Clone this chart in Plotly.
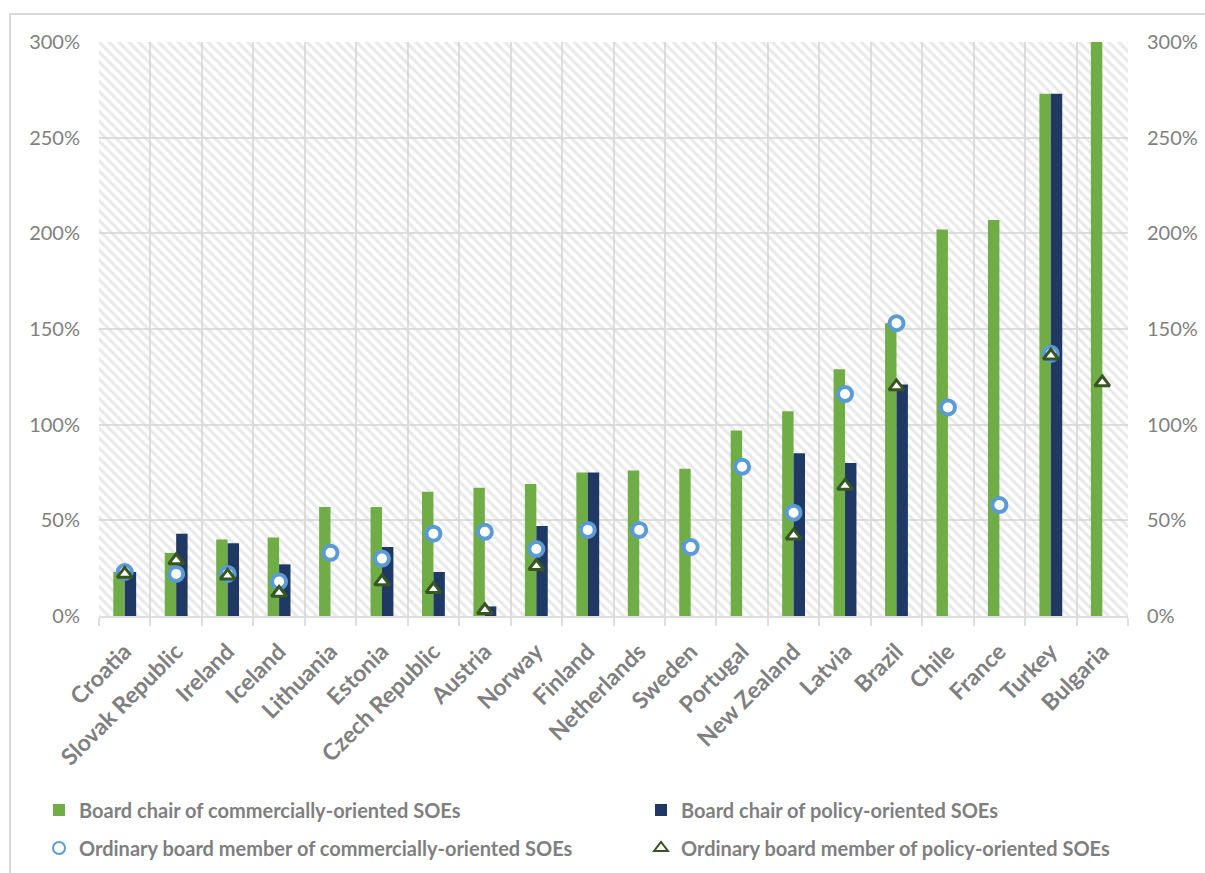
import plotly.graph_objects as go

countries = ["Croatia", "Slovak Republic", "Ireland", "Iceland", "Lithuania", "Estonia",
             "Czech Republic", "Austria", "Norway", "Finland", "Netherlands", "Sweden",
             "Portugal", "New Zealand", "Latvia", "Brazil", "Chile", "France", "Turkey", "Bulgaria"]

chair_commercial = [23, 33, 40, 41, 57, 57, 65, 67, 69, 75, 76, 77, 97, 107, 129, 153, 202, 207, 273, 300]
chair_policy = [23, 43, 38, 27, None, 36, 23, 5, 47, 75, None, None, None, 85, 80, 121, None, None, 273, None]
member_commercial = [23, 22, 22, 18, 33, 30, 43, 44, 35, 45, 45, 36, 78, 54, 116, 153, 109, 58, 137, None]
member_policy = [22, 29, 21, 12, None, 18, 14, 3, 26, None, None, None, None, 42, 68, 120, None, None, 136, 122]

y_ticks = [0, 50, 100, 150, 200, 250, 300]
y_tick_labels = ["0%", "50%", "100%", "150%", "200%", "250%", "300%"]

names = ["Board chair of commercially-oriented SOEs",
         "Board chair of policy-oriented SOEs",
         "Ordinary board member of commercially-oriented SOEs",
         "Ordinary board member of policy-oriented SOEs"]

GREEN = "#70ad47"
NAVY = "#203864"
BLUE = "#5b9bd5"
DKGREEN = "#375623"
GRAY_TXT = "#7f7f7f"
GRID = "#dedede"
BW = 0.222

fig = go.Figure()

# hatched plot-area background
fig.add_trace(go.Bar(
    x=[countries[0]], y=[y_ticks[-1]], base=0, offset=-0.5, width=len(countries),
    marker=dict(color="rgba(0,0,0,0)", line=dict(width=0),
                pattern=dict(shape="\\", fgcolor="#d4d4d4", size=7, solidity=0.45)),
    showlegend=False, hoverinfo="skip"))

fig.add_trace(go.Bar(x=countries, y=chair_commercial, name=names[0], offset=-BW, width=BW,
                     marker=dict(color=GREEN, line=dict(width=0)), legend="legend"))
fig.add_trace(go.Bar(x=countries, y=chair_policy, name=names[1], offset=0, width=BW,
                     marker=dict(color=NAVY, line=dict(width=0)), legend="legend2"))
fig.add_trace(go.Scatter(x=countries, y=member_commercial, name=names[2], mode="markers",
                         marker=dict(symbol="circle", size=14, color="white",
                                     line=dict(color=BLUE, width=4)), legend="legend3"))
fig.add_trace(go.Scatter(x=countries, y=member_policy, name=names[3], mode="markers",
                         marker=dict(symbol="triangle-up", size=13, color="white",
                                     line=dict(color=DKGREEN, width=3)), legend="legend4"))
# carrier for right axis
fig.add_trace(go.Scatter(x=[countries[0], countries[-1]], y=[0, y_ticks[-1]], yaxis="y2",
                         mode="markers", marker=dict(opacity=0), showlegend=False, hoverinfo="skip"))

L, R, T, B = 99, 77, 42, 257
W, H = 1205, 873
pw, ph = W - L - R, H - T - B

def px_x(p):
    return (p - L) / pw

def px_y(p):
    return (H - B - p) / ph

tickfont = dict(family="Lato", size=20, color=GRAY_TXT)
legfont = dict(family="Lato", size=20, color=GRAY_TXT, weight="bold")

def leg(xpx, ypx):
    return dict(orientation="h", x=px_x(xpx), xanchor="left", y=px_y(ypx), yanchor="middle",
                font=legfont, bgcolor="rgba(0,0,0,0)", itemsizing="constant")

fig.update_layout(
    width=W, height=H,
    margin=dict(l=L, r=R, t=T, b=B, autoexpand=False),
    paper_bgcolor="white", plot_bgcolor="white",
    barmode="overlay",
    xaxis=dict(type="category", range=[-0.5, len(countries) - 0.5], tickson="boundaries",
               showgrid=True, gridcolor=GRID, gridwidth=2,
               ticks="outside", ticklen=8, tickcolor=GRID, tickwidth=2,
               showline=True, linecolor=GRID, linewidth=2, ticklabelstandoff=11,
               tickangle=-45, tickfont=dict(family="Lato", size=23, color=GRAY_TXT, weight="bold")),
    yaxis=dict(range=[0, 300], tickvals=y_ticks, ticktext=y_tick_labels, showgrid=True,
               gridcolor=GRID, gridwidth=2, zeroline=False, ticks="", tickfont=tickfont,
               ticklabelstandoff=18),
    yaxis2=dict(range=[0, 300], tickvals=y_ticks, ticktext=y_tick_labels, overlaying="y", side="right",
                showgrid=False, zeroline=False, ticks="", tickfont=tickfont, ticklabelstandoff=18),
    legend=leg(39, 810),
    legend2=leg(641, 810),
    legend3=leg(39, 848),
    legend4=leg(641, 848),
    shapes=[dict(type="rect", xref="paper", yref="paper",
                 x0=px_x(10), x1=px_x(W + 20), y0=px_y(H + 20), y1=px_y(14),
                 line=dict(color="#d9d9d9", width=2), fillcolor="rgba(0,0,0,0)", layer="below")],
)

fig.write_html("out.html")
